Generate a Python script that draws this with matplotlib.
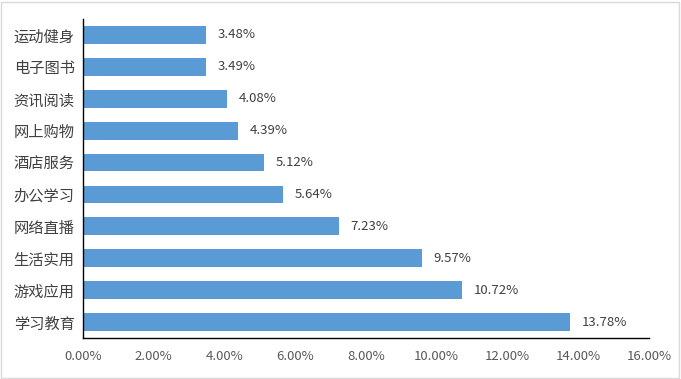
import matplotlib
matplotlib.use("Agg")
import matplotlib.pyplot as plt
from matplotlib.patches import Rectangle
from matplotlib.ticker import FuncFormatter

categories = ["运动健身", "电子图书", "资讯阅读", "网上购物", "酒店服务",
              "办公学习", "网络直播", "生活实用", "游戏应用", "学习教育"]
values = [3.48, 3.49, 4.08, 4.39, 5.12, 5.64, 7.23, 9.57, 10.72, 13.78]
xticks = [0, 2, 4, 6, 8, 10, 12, 14, 16]

plt.rcParams["font.family"] = ["Noto Sans CJK SC", "DejaVu Sans"]

fig = plt.figure(figsize=(6.81, 3.79), dpi=100)
ax = fig.add_axes([83 / 681, 1 - 338 / 379, (649 - 83) / 681, (338 - 19) / 379])

ypos = list(range(len(categories)))
ax.barh(ypos, values, height=0.56, color="#5B9BD5", zorder=2)
for y, v in zip(ypos, values):
    ax.text(v + 0.33, y, f"{v:.2f}%", va="center", ha="left",
            fontsize=9.5, color="#404040")

ax.set_yticks(ypos)
ax.set_yticklabels(categories, fontsize=11, color="#404040")
ax.set_ylim(len(categories) - 0.5, -0.5)
ax.set_xlim(0, 16)
ax.set_xticks(xticks)
ax.xaxis.set_major_formatter(FuncFormatter(lambda x, p: f"{x:.2f}%"))
for lab in ax.get_xticklabels():
    lab.set_fontsize(9.5)
    lab.set_color("#595959")

ax.tick_params(axis="both", length=0)
ax.tick_params(axis="x", pad=9)
ax.tick_params(axis="y", pad=6)
for side in ["top", "right"]:
    ax.spines[side].set_visible(False)
for side in ["left", "bottom"]:
    ax.spines[side].set_color("black")
    ax.spines[side].set_linewidth(1)

fig.patches.append(Rectangle((0.002, 0.003), 0.995, 0.993, transform=fig.transFigure,
                             fill=False, edgecolor="#D9D9D9", linewidth=1))

fig.savefig("out.png", dpi=100)
